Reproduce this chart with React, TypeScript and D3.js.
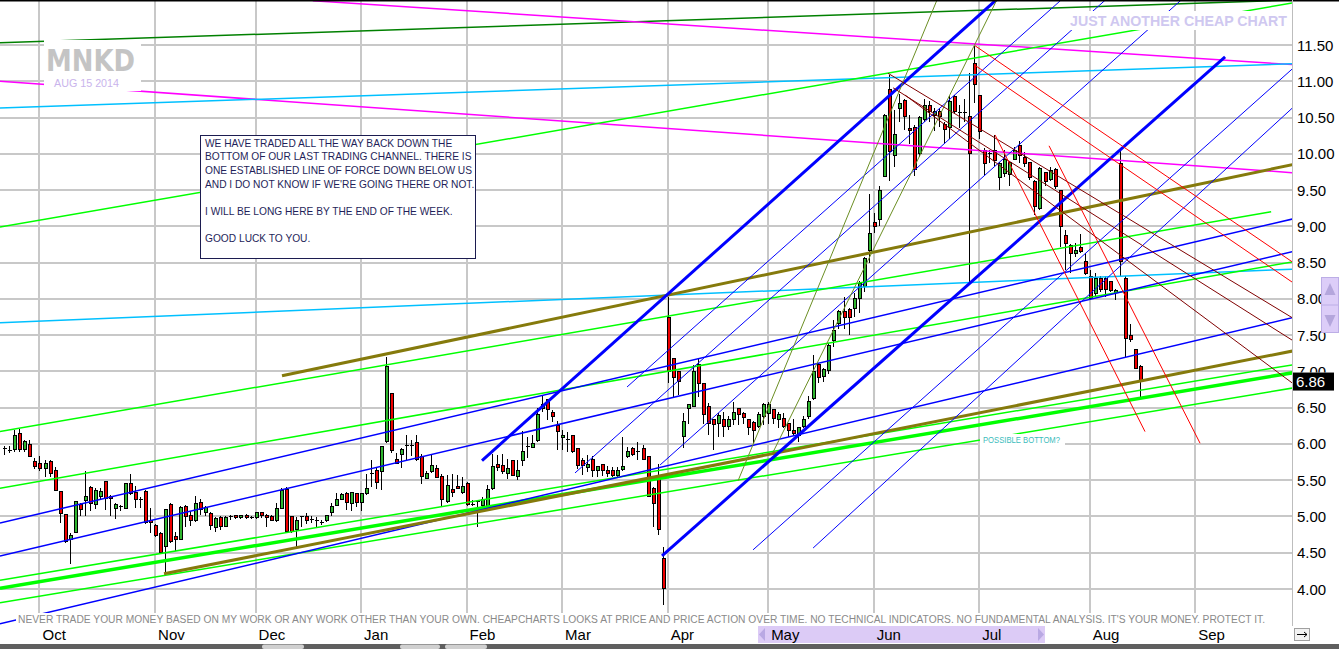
import React from 'react';
import * as d3 from 'd3';

// ---------- DATA ----------
const openPrices = [
5.94,5.90,5.92,6.14,5.93,5.99,5.76,5.73,5.66,5.76,5.63,5.35,5.03,4.68,4.78,5.16,5.22,5.40,5.17,5.28,
5.48,5.28,5.11,5.13,5.11,5.46,5.33,5.24,5.34,4.95,4.87,4.77,4.58,5.16,4.72,4.68,5.14,5.01,4.95,5.19,
5.06,5.04,4.85,4.99,4.86,5.00,5.01,4.98,5.02,4.99,4.99,5.05,5.02,5.00,4.94,5.11,5.37,5.00,4.82,5.00,
5.00,4.97,4.95,4.93,4.95,5.05,5.15,5.24,5.32,5.18,5.32,5.19,5.32,5.60,5.63,5.62,6.03,6.69,5.78,5.85,
5.99,5.99,6.02,5.83,5.53,5.62,5.66,5.55,5.20,5.37,5.42,5.33,5.45,5.17,5.22,5.15,5.14,5.39,5.71,5.70,
5.59,5.77,5.55,5.77,5.97,5.95,6.05,6.49,6.61,6.44,6.26,6.09,6.07,6.11,5.94,5.77,5.68,5.79,5.63,5.71,
5.63,5.64,5.57,5.65,5.82,5.94,5.88,5.94,5.82,5.39,5.54,4.42,7.75,7.18,7.00,6.10,6.49,6.52,7.10,6.84,
6.51,6.33,6.28,6.33,6.24,6.33,6.49,6.42,6.33,6.29,6.24,6.38,6.42,6.47,6.33,6.35,6.28,6.18,6.12,6.24,
6.38,6.63,7.09,6.93,7.01,7.43,7.66,7.82,7.85,7.87,8.01,8.17,8.67,9.05,9.09,9.69,10.89,9.98,10.63,10.73,
10.35,10.36,10.00,10.47,10.67,10.53,10.58,10.40,10.36,10.79,10.58,10.58,10.52,11.24,10.80,10.05,10.01,10.05,9.68,9.73,
9.72,9.92,10.11,9.95,9.88,9.62,9.25,9.74,9.64,9.78,9.50,8.87,8.74,8.62,8.71,8.51,8.31,8.08,8.28,8.28,
8.24,8.09,9.87,8.28,7.50,7.30,7.07
];
const highPrices = [
5.97,5.97,6.19,6.20,6.06,6.06,5.80,5.83,5.78,5.78,5.68,5.35,5.04,4.77,5.21,5.19,5.63,5.42,5.39,5.39,
5.49,5.30,5.19,5.16,5.46,5.59,5.42,5.27,5.36,5.11,4.90,4.79,5.09,5.19,4.79,5.14,5.16,5.07,5.28,5.24,
5.14,5.06,4.99,5.00,5.00,5.02,5.02,5.02,5.04,5.01,5.05,5.05,5.04,5.02,5.18,5.39,5.41,5.01,4.99,5.01,
5.05,5.00,4.99,4.95,5.02,5.18,5.32,5.32,5.34,5.34,5.33,5.32,5.59,5.78,5.67,5.97,7.20,6.70,5.87,5.95,
6.12,6.05,6.12,5.86,5.62,5.85,5.71,5.59,5.57,5.59,5.57,5.55,5.47,5.23,5.23,5.27,5.43,5.86,5.85,5.86,
5.79,5.78,5.78,6.18,6.10,6.12,6.50,6.67,6.62,6.47,6.32,6.19,6.17,6.12,5.94,5.80,5.85,5.83,5.69,5.73,
5.70,5.68,5.68,6.10,5.96,5.96,6.02,5.98,5.84,5.41,5.73,4.58,8.03,7.19,7.00,6.42,6.55,7.09,7.17,6.84,
6.56,6.35,6.42,6.44,6.38,6.58,6.49,6.44,6.35,6.31,6.44,6.56,6.58,6.47,6.44,6.42,6.29,6.34,6.24,6.38,
6.66,7.23,7.12,7.04,7.39,7.71,7.85,8.03,7.87,8.08,8.24,8.58,9.45,9.19,9.56,10.55,11.09,10.60,10.83,10.75,
10.53,10.40,10.52,10.76,10.73,10.63,10.63,10.44,10.79,10.81,10.67,10.76,11.11,11.49,10.80,10.08,10.05,10.26,9.89,10.05,
9.89,10.10,10.17,10.03,9.89,9.64,9.82,9.75,9.82,9.80,9.50,8.95,8.76,8.77,8.89,8.63,8.40,8.35,8.31,8.31,
8.25,8.13,10.05,8.31,7.66,7.30,7.09
];
const lowPrices = [
5.85,5.87,5.89,5.89,5.89,5.82,5.66,5.62,5.55,5.54,5.36,4.91,4.63,4.35,4.77,5.00,5.01,5.07,5.10,5.23,
5.09,5.01,4.97,5.07,5.10,5.30,5.11,5.11,4.90,4.77,4.72,4.51,4.19,4.64,4.53,4.68,4.86,4.87,4.93,5.02,
5.01,4.81,4.79,4.81,4.86,4.95,4.97,4.97,4.97,4.97,4.96,4.98,4.86,4.95,4.93,5.11,4.77,4.77,4.56,4.86,
4.90,4.91,4.86,4.88,4.93,5.00,5.14,5.23,5.09,5.08,5.13,5.08,5.30,5.41,5.38,5.37,6.01,5.88,5.73,5.67,
5.78,5.84,5.76,5.45,5.52,5.60,5.53,5.14,5.19,5.27,5.38,5.31,5.15,5.14,4.86,5.07,5.12,5.37,5.62,5.59,
5.52,5.56,5.50,5.70,5.81,5.94,6.03,6.44,6.33,6.30,5.92,5.91,5.89,5.87,5.66,5.57,5.61,5.55,5.55,5.56,
5.54,5.55,5.55,5.63,5.80,5.84,5.78,5.78,5.27,4.86,4.74,3.78,6.84,6.65,6.67,5.95,6.28,6.51,6.65,6.28,
6.12,5.92,6.10,6.10,6.19,6.26,6.26,6.28,6.13,6.01,6.22,6.26,6.28,6.28,6.22,6.22,6.10,6.11,6.03,6.22,
6.35,6.61,6.84,6.86,6.97,7.34,7.59,7.59,7.50,7.75,7.80,8.10,8.50,8.91,9.00,9.68,9.63,9.82,10.44,10.33,
10.14,9.69,9.96,10.44,10.44,10.31,10.37,10.14,10.21,10.55,10.35,10.44,8.22,10.70,10.20,9.71,9.87,9.83,9.50,9.68,
9.55,9.91,9.87,9.82,9.64,9.16,9.23,9.55,9.62,9.52,8.72,8.40,8.36,8.58,8.63,8.33,7.98,8.03,8.09,8.03,
8.10,7.99,8.31,7.20,7.41,7.03,6.65
];
const closePrices = [
5.94,5.91,6.12,5.93,6.04,5.82,5.69,5.66,5.73,5.59,5.36,5.04,4.65,4.74,5.20,5.09,5.27,5.18,5.36,5.34,
5.25,5.25,5.16,5.14,5.45,5.32,5.23,5.24,4.91,4.91,4.74,4.51,5.09,4.66,4.68,5.12,5.00,4.95,5.18,5.09,
5.12,4.87,4.97,4.86,4.99,5.00,4.98,5.01,4.98,4.99,5.05,5.01,4.98,4.95,5.11,5.36,4.79,4.79,4.95,5.00,
4.95,4.97,4.95,4.93,5.01,5.14,5.24,5.30,5.19,5.33,5.19,5.31,5.39,5.60,5.47,5.96,7.07,5.91,5.73,5.93,
5.99,5.99,5.78,5.55,5.59,5.70,5.54,5.23,5.43,5.33,5.39,5.42,5.16,5.17,5.22,5.23,5.37,5.69,5.68,5.62,
5.66,5.56,5.63,5.90,5.97,6.01,6.40,6.54,6.47,6.38,6.17,6.12,6.07,5.89,5.70,5.70,5.71,5.64,5.69,5.64,
5.59,5.57,5.64,5.69,5.89,5.86,5.90,5.79,5.27,5.18,4.82,4.01,7.00,6.92,6.86,6.31,6.54,7.00,6.84,6.40,
6.28,6.27,6.39,6.24,6.33,6.44,6.40,6.36,6.22,6.19,6.41,6.54,6.54,6.35,6.41,6.24,6.19,6.15,6.22,6.33,
6.58,7.00,6.92,7.02,7.36,7.57,7.82,7.75,7.75,8.01,8.21,8.56,8.90,9.00,9.50,10.53,10.03,10.27,10.69,10.51,
10.32,9.78,10.50,10.66,10.58,10.59,10.51,10.34,10.72,10.58,10.58,10.58,10.00,10.95,10.31,9.87,10.01,9.91,9.87,9.92,
9.88,10.05,9.98,9.86,9.68,9.27,9.80,9.62,9.77,9.55,9.00,8.77,8.63,8.67,8.65,8.35,8.01,8.28,8.13,8.13,
8.11,8.12,8.51,7.46,7.44,7.04,6.86
];

const monthLabels = ['Oct', 'Nov', 'Dec', 'Jan', 'Feb', 'Mar', 'Apr', 'May', 'Jun', 'Jul', 'Aug', 'Sep'];
const monthStartIndex = [7, 30, 50, 71, 92, 111, 132, 152, 173, 194, 216, 237];
const priceTicks = [4, 4.5, 5, 5.5, 6, 6.5, 7, 7.5, 8, 8.5, 9, 9.5, 10, 10.5, 11, 11.5];
const lastPrice = 6.86;

// trend lines: [startIndex, startPrice, endIndex, endPrice]
const darkGreenLines = [[-0.86, 11.53, 256.3, 12.12]];
const magentaLines = [[61.4, 12.11, 256.3, 11.23], [-0.86, 11.0, 256.3, 9.74]];
const cyanLines = [[-0.86, 10.63, 256.3, 11.24], [-0.86, 7.67, 256.3, 8.41]];
const limeLines = [
  [-0.86, 8.99, 256.3, 12.08],
  [-0.86, 6.17, 252.1, 9.2],
  [-0.86, 5.39, 256.3, 8.51],
  [-0.86, 4.12, 256.3, 7.09],
  [-0.86, 3.81, 256.3, 6.77],
];
const limeThickLines = [[-0.86, 4.01, 256.3, 6.98]];
const blueLines = [
  [-0.86, 4.91, 256.3, 9.1],
  [-0.86, 4.455, 256.3, 8.65],
  [-0.86, 3.52, 256.3, 7.74],
];
const blueThickLines = [[95.06, 5.77, 197.35, 12.12], [130.88, 4.455, 242.93, 11.335]];
const blueThinLines = [
  [123.92, 6.785, 210.3, 12.12],
  [113.57, 5.6, 219.1, 12.12],
  [130.5, 5.71, 234.2, 12.12],
  [149.0, 4.54, 256.3, 11.17],
  [160.95, 4.565, 256.3, 10.63],
];
const oliveDrabLines = [[146.0, 5.49, 185.6, 12.12], [152.9, 5.875, 197.5, 12.12]];
const oliveThickLines = [[55.26, 6.94, 256.3, 9.85], [31.78, 4.21, 256.3, 7.28]];
const redLines = [
  [193.17, 11.49, 256.3, 8.51],
  [193.17, 11.22, 256.3, 8.23],
  [197.16, 10.26, 227.0, 6.17],
  [207.9, 10.11, 237.95, 6.01],
];
const maroonLines = [
  [175.86, 11.11, 256.3, 7.74],
  [176.86, 10.91, 256.3, 7.43],
  [179.24, 10.81, 256.3, 6.84],
];

const noteLines = [
  'WE HAVE TRADED ALL THE WAY BACK DOWN THE',
  'BOTTOM OF OUR LAST TRADING CHANNEL. THERE IS',
  'ONE ESTABLISHED LINE OF FORCE DOWN BELOW US',
  "AND I DO NOT KNOW IF WE'RE GOING THERE OR NOT.",
  '',
  'I WILL BE LONG HERE BY THE END OF THE WEEK.',
  '',
  'GOOD LUCK TO YOU.',
];
const disclaimer =
  "NEVER TRADE YOUR MONEY BASED ON MY WORK OR ANY WORK OTHER THAN YOUR OWN. CHEAPCHARTS LOOKS AT PRICE AND PRICE ACTION OVER TIME. NO TECHNICAL INDICATORS. NO FUNDAMENTAL ANALYSIS. IT'S YOUR MONEY. PROTECT IT.";

export default function App() {
  const W = 1339;
  const H = 649;
  const plotRight = 1292;
  const plotBottom = 625;
  const x = d3.scaleLinear().domain([0, 226]).range([4.3, 1140]);
  const y = d3.scaleLinear().domain([4, 11.5]).range([589, 45]);
  const font = "'Liberation Sans', Arial, sans-serif";

  const seg = (s: number[]) =>
    d3.line()([
      [x(s[0]), y(s[1])],
      [x(s[2]), y(s[3])],
    ]) as string;

  const lineGroups = [
    { data: darkGreenLines, color: '#008000', w: 1.5 },
    { data: magentaLines, color: '#ff00ff', w: 1.5 },
    { data: cyanLines, color: '#00c0ff', w: 1.5 },
    { data: limeLines, color: '#00ff00', w: 1.5 },
    { data: limeThickLines, color: '#00ff00', w: 3.5 },
    { data: blueLines, color: '#0000ff', w: 1.5 },
    { data: oliveThickLines, color: '#857a0c', w: 3 },
    { data: blueThinLines, color: '#0000ff', w: 1 },
    { data: blueThickLines, color: '#0000ff', w: 3 },
    { data: oliveDrabLines, color: '#6b8e23', w: 1 },
    { data: maroonLines, color: '#800000', w: 1 },
    { data: redLines, color: '#ff0000', w: 1 },
  ];

  const idx = d3.range(openPrices.length);

  return (
    <div style={{ position: 'fixed', left: 0, top: 0 }}>
      <svg width={W} height={H} style={{ display: 'block', background: '#fff' }}>
        <defs>
          <clipPath id="plot">
            <rect x={0} y={0} width={plotRight} height={plotBottom} />
          </clipPath>
          <clipPath id="aboveBox">
            <rect x={1290} y={0} width={49} height={y(lastPrice) - 9} />
          </clipPath>
        </defs>
        <rect x={0} y={0} width={W} height={H} fill="#fff" />
        {/* grid */}
        <g stroke="#c8c8c8" strokeWidth={1.5} shapeRendering="crispEdges">
          {priceTicks.map((p) => (
            <line key={'h' + p} x1={0} x2={plotRight} y1={Math.round(y(p))} y2={Math.round(y(p))} />
          ))}
          {monthStartIndex.map((m) => (
            <line key={'v' + m} x1={Math.round(x(m))} x2={Math.round(x(m))} y1={0} y2={613} />
          ))}
        </g>

        <g clipPath="url(#plot)">
          {/* candles */}
          <g shapeRendering="crispEdges">
            {idx.map((i) => {
              const cx = Math.round(x(i)) + 0.5;
              const o = openPrices[i];
              const c = closePrices[i];
              const top = y(Math.max(o, c));
              const bot = y(Math.min(o, c));
              const doji = bot - top < 1.5;
              return (
                <g key={i}>
                  <line x1={cx} x2={cx} y1={y(highPrices[i])} y2={y(lowPrices[i])} stroke="#000" strokeWidth={1} />
                  {doji ? (
                    <line x1={cx - 2} x2={cx + 2} y1={Math.round(top) + 0.5} y2={Math.round(top) + 0.5} stroke="#000" strokeWidth={1.5} />
                  ) : (
                    <rect
                      x={cx - 1.5}
                      y={top}
                      width={3}
                      height={bot - top}
                      fill={c >= o ? '#2fb52f' : '#ee0000'}
                      stroke="#000"
                      strokeWidth={1}
                    />
                  )}
                </g>
              );
            })}
          </g>
          {/* trend lines */}
          {lineGroups.map((g, gi) => (
            <g key={gi} stroke={g.color} strokeWidth={g.w} fill="none" strokeLinecap="butt">
              {g.data.map((s, si) => (
                <path key={si} d={seg(s)} />
              ))}
            </g>
          ))}
        </g>

        {/* logo */}
        <rect x={44} y={40} width={97} height={51} fill="#fff" />
        <text x={46} y={71} fontFamily="'DejaVu Sans', sans-serif" fontWeight="bold" fontSize={31} fill="#c4c4c4" textLength={89} lengthAdjust="spacingAndGlyphs">MNKD</text>
        <text x={54} y={86.5} fontFamily={font} fontSize={10.5} fill="#c9b4ec" textLength={65} lengthAdjust="spacingAndGlyphs">AUG 15 2014</text>

        {/* title */}
        <rect x={1066} y={11} width={224} height={19} fill="#fff" />
        <text x={1070} y={26} fontFamily={font} fontWeight="bold" fontSize={14} fill="#cfc8f0" textLength={217} lengthAdjust="spacingAndGlyphs">JUST ANOTHER CHEAP CHART</text>

        {/* note box */}
        <rect x={200.5} y={135.5} width={275} height={123} fill="#fff" stroke="#1c1c50" strokeWidth={1} />
        {noteLines.map((t, i) => (
          <text key={i} x={205} y={146.5 + i * 13.7} fontFamily={font} fontSize={10.2} fill="#1f1f5a">{t}</text>
        ))}

        {/* possible bottom */}
        <rect x={980} y={434} width={85} height={11} fill="#fff" />
        <text x={983} y={443} fontFamily={font} fontSize={8.5} fill="#3cbcbc" textLength={77} lengthAdjust="spacingAndGlyphs">POSSIBLE BOTTOM?</text>

        {/* top border & axis line */}
        <line x1={0} x2={W} y1={0.5} y2={0.5} stroke="#000" strokeWidth={2} />
        <line x1={plotRight + 0.5} x2={plotRight + 0.5} y1={0} y2={626} stroke="#bdbdbd" strokeWidth={1} />

        {/* disclaimer */}
        <rect x={16} y={613} width={1252} height={12} fill="#fff" />
        <text x={18} y={623} fontFamily={font} fontSize={10} fill="#8a8a8a" textLength={1247} lengthAdjust="spacingAndGlyphs">{disclaimer}</text>

        {/* price axis */}
        {priceTicks.map((p) =>
          Math.abs(y(p) - y(lastPrice)) < 14 ? (
            <g key={'t' + p} clipPath="url(#aboveBox)">
              <text x={1297} y={y(p) + 5.5} fontFamily={font} fontSize={15} fill="#000">{p.toFixed(2)}</text>
            </g>
          ) : (
            <text key={'t' + p} x={1297} y={y(p) + 5.5} fontFamily={font} fontSize={15} fill="#000">{p.toFixed(2)}</text>
          )
        )}
        <rect x={1293} y={y(lastPrice) - 9} width={41} height={18} fill="#000" />
        <text x={1296} y={y(lastPrice) + 5.5} fontFamily={font} fontSize={15} fill="#fff">{lastPrice.toFixed(2)}</text>

        {/* vertical scroll widget */}
        <rect x={1321.5} y={277.5} width={17} height={55} fill="#dccdf8" stroke="#bcaee6" />
        <line x1={1321} x2={1339} y1={305} y2={305} stroke="#bcaee6" />
        <path d="M1330,283 L1324.5,295 L1335.5,295 Z" fill="#b4a6dc" />
        <path d="M1324.5,315 L1335.5,315 L1330,327 Z" fill="#b4a6dc" />

        {/* month axis */}
        <rect x={758} y={626} width={287} height={17} fill="#dccbf6" />
        <path d="M759,634.5 L765,628 L765,641 Z" fill="#b9a9e3" />
        <path d="M1044,634.5 L1038,628 L1038,641 Z" fill="#b9a9e3" />
        {monthStartIndex.map((m, i) => (
          <text key={'m' + i} x={x(m) + 3} y={640} fontFamily={font} fontSize={15} fill="#000">{monthLabels[i]}</text>
        ))}
        <rect x={1294.5} y={628.5} width={15} height={12} fill="#f2f2f2" stroke="#a0a0a0" />
        <path d="M1297,634.5 L1307,634.5 M1304,632 L1307,634.5 L1304,637" stroke="#000" fill="none" />

        {/* scrollbar */}
        <rect x={0} y={644} width={W} height={5} fill="#5f5f5f" />
        <rect x={262} y={644.5} width={42} height={4.5} rx={2} fill="#d0d0d0" />
        <rect x={400} y={644.5} width={40} height={4.5} rx={2} fill="#d0d0d0" />
        <rect x={445} y={644.5} width={42} height={4.5} rx={2} fill="#d0d0d0" />
      </svg>
    </div>
  );
}
